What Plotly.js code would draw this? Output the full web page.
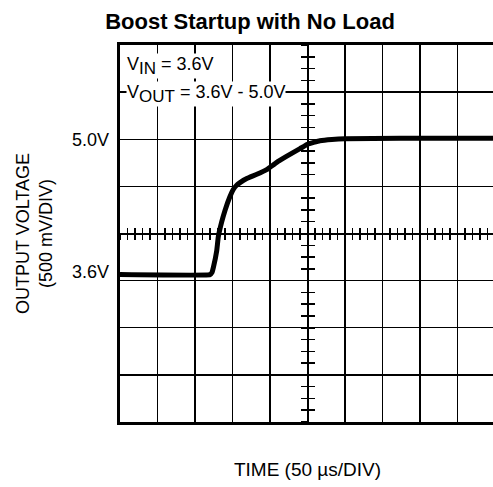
<!DOCTYPE html>
<html><head><meta charset="utf-8">
<script src="https://cdn.plot.ly/plotly-3.0.1.min.js"></script>
<style>html,body{margin:0;padding:0;overflow:hidden;background:#fff;width:493px;height:487px}</style>
</head><body><div id="chart"></div>
<script>
// time in divisions (50 us/div), voltage in volts
const timeDiv = [0, 2.40, 2.45, 2.49, 2.58, 2.62, 2.71, 2.80, 2.93, 3.02, 3.10, 3.20, 3.38, 3.65, 3.91, 4.18, 4.45, 4.80, 5.00, 5.33, 5.65, 6.00, 7.47, 10.0];
const vout    = [3.564, 3.564, 3.585, 3.641, 3.819, 3.961, 4.12, 4.245, 4.39, 4.466, 4.508, 4.540, 4.583, 4.628, 4.678, 4.755, 4.82, 4.90, 4.947, 4.984, 4.998, 5.005, 5.01, 5.01];
const yTickVals = [3.6, 5.0];
const yTickText = ['3.6V', '5.0V'];
const xRange = [0, 10];
const yRange = [2.0, 6.0];

const F = 'Liberation Sans, Arial, sans-serif';
const traces = [
  {x: timeDiv, y: vout, mode: 'lines', line: {color: '#000', width: 5, shape: 'spline', smoothing: 0.3}, hoverinfo: 'skip', showlegend: false},
  {x: [0], y: [0], xaxis: 'x2', yaxis: 'y', mode: 'markers', marker: {opacity: 0}, showlegend: false, hoverinfo: 'skip'},
  {x: [0], y: [0], xaxis: 'x3', yaxis: 'y', mode: 'markers', marker: {opacity: 0}, showlegend: false, hoverinfo: 'skip'},
  {x: [0], y: [0], xaxis: 'x', yaxis: 'y2', mode: 'markers', marker: {opacity: 0}, showlegend: false, hoverinfo: 'skip'},
  {x: [0], y: [0], xaxis: 'x', yaxis: 'y3', mode: 'markers', marker: {opacity: 0}, showlegend: false, hoverinfo: 'skip'},
  {x: [0], y: [0], xaxis: 'x', yaxis: 'y4', mode: 'markers', marker: {opacity: 0}, showlegend: false, hoverinfo: 'skip'}
];
const crossX = {range: xRange, overlaying: 'x', anchor: 'free', position: 0.5, tickmode: 'linear', tick0: 0, dtick: 0.2,
  ticklen: 5, tickwidth: 1.5, tickcolor: '#000', showline: true, linecolor: '#000', linewidth: 2,
  showticklabels: false, showgrid: false, zeroline: false, fixedrange: true};
const crossY = {range: yRange, overlaying: 'y', anchor: 'free', position: 0.5, tickmode: 'linear', tick0: 2, dtick: 0.125,
  ticklen: 6, tickwidth: 1.5, tickcolor: '#000', showline: true, linecolor: '#000', linewidth: 2,
  showticklabels: false, showgrid: false, zeroline: false, fixedrange: true};
const sub = s => '<sub><span style="font-size:17px">' + s + '</span></sub>';
const layout = {
  width: 497, height: 487,
  margin: {l: 120, r: 2, t: 45, b: 65},
  paper_bgcolor: '#fff', plot_bgcolor: '#fff',
  font: {family: F, color: '#000', size: 18},
  title: {text: '<b>Boost Startup with No Load</b>', font: {family: F, size: 22, color: '#000'}, x: 250/497, xref: 'container', xanchor: 'center', y: 1 - 21/487, yanchor: 'middle', yref: 'container'},
  xaxis: {range: xRange, tickmode: 'linear', tick0: 0, dtick: 1, showgrid: true, gridcolor: '#000', gridwidth: 1.3,
    showticklabels: false, ticks: '', zeroline: false, showline: true, mirror: true, linecolor: '#000', linewidth: 3,
    title: {text: 'TIME (50 \u00b5s/DIV)', font: {family: F, size: 19}, standoff: 39}, fixedrange: true},
  yaxis: {range: yRange, tickmode: 'linear', tick0: 2, dtick: 0.5, showgrid: true, gridcolor: '#000', gridwidth: 1.3,
    showticklabels: false, ticks: '', zeroline: false, showline: true, mirror: true, linecolor: '#000', linewidth: 3, fixedrange: true},
  yaxis4: {range: yRange, overlaying: 'y', side: 'left', tickmode: 'array', tickvals: yTickVals, ticktext: yTickText,
    ticks: '', showgrid: false, zeroline: false, showline: false, tickfont: {family: F, size: 18}, ticklabelstandoff: 10,
    title: {text: 'OUTPUT VOLTAGE<br>(500 mV/DIV)', font: {family: F, size: 18}, standoff: 14}, fixedrange: true},
  xaxis2: Object.assign({}, crossX, {ticks: 'inside'}),
  xaxis3: Object.assign({}, crossX, {ticks: 'outside'}),
  yaxis2: Object.assign({}, crossY, {ticks: 'inside'}),
  yaxis3: Object.assign({}, crossY, {ticks: 'outside'}),
  annotations: [
    {text: 'V' + sub('IN') + ' = 3.6V', xref: 'x', yref: 'y', x: 0.15, y: 5.78, xanchor: 'left', yanchor: 'middle', showarrow: false,
      bgcolor: '#fff', font: {family: F, size: 18}, borderpad: 0},
    {text: 'V' + sub('OUT') + ' = 3.6V - 5.0V', xref: 'x', yref: 'y', x: 0.15, y: 5.48, xanchor: 'left', yanchor: 'middle', showarrow: false,
      bgcolor: '#fff', font: {family: F, size: 18}, borderpad: 0}
  ]
};
Plotly.newPlot('chart', traces, layout, {displayModeBar: false, staticPlot: true});
</script></body></html>
